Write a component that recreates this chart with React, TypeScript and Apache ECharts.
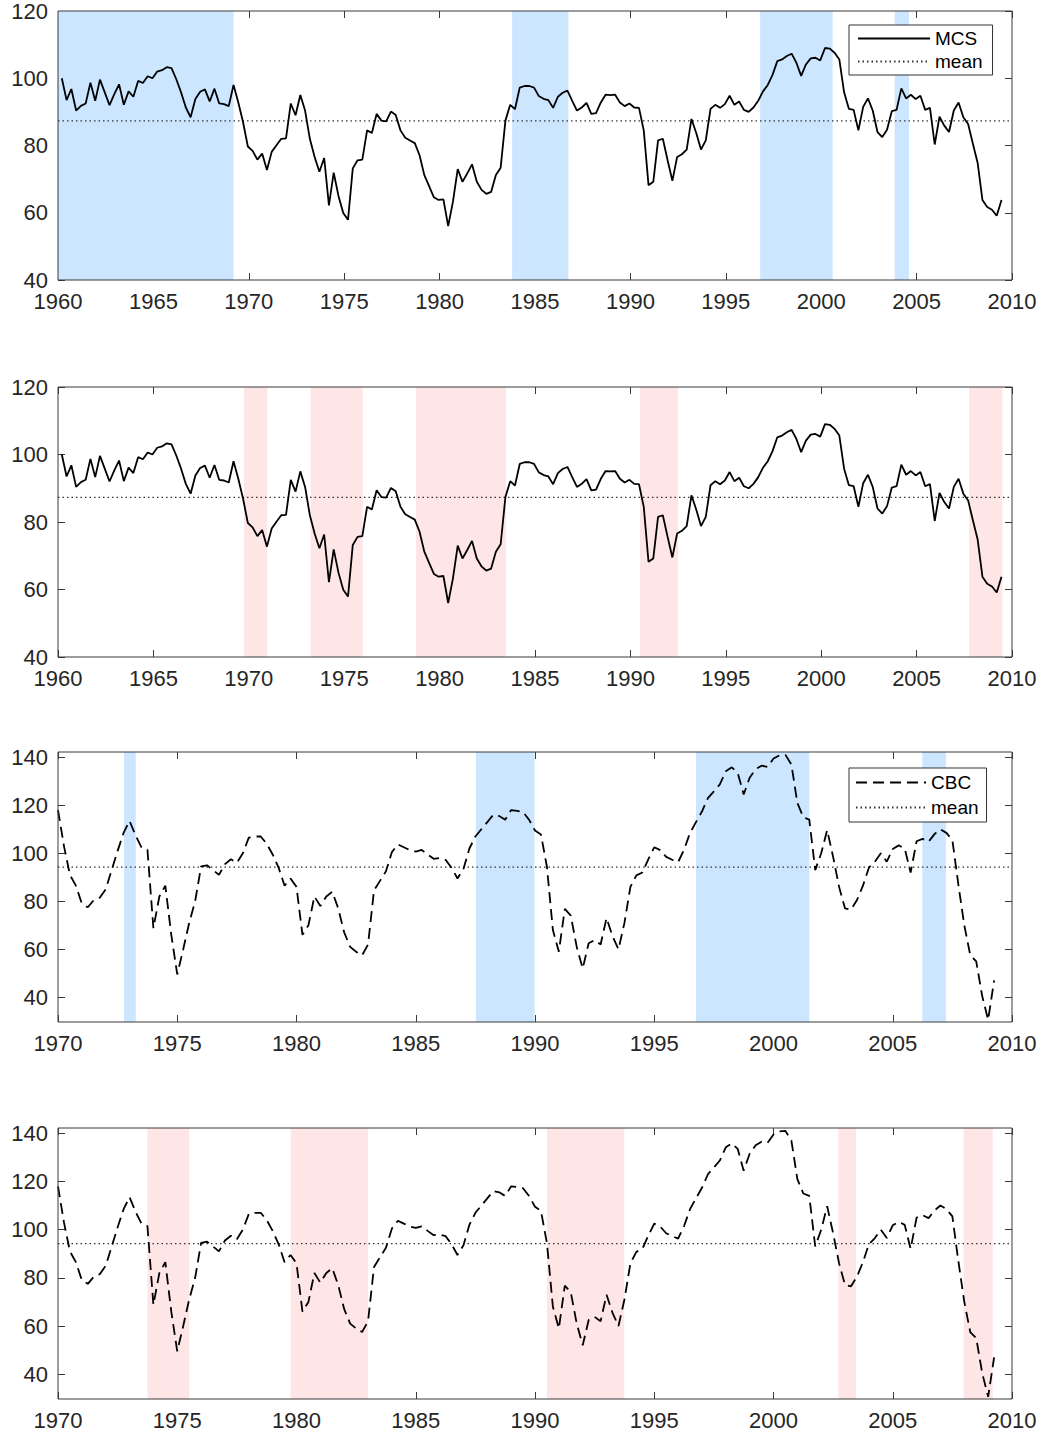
import React, { useEffect, useRef } from "react";
import * as echarts from "echarts";

// ---------- data ----------
const QUARTER = 0.25;
const MCS_START = 1960.2;
const CBC_START = 1970.0;

const mcsValues = [
  100, 93.5, 96.8, 90.4, 91.8, 92.5, 98.7, 93.3, 99.6, 95.8,
  92, 95.3, 98.2, 92.1, 96.1, 94.5, 99.2, 98.6, 100.6, 100,
  102, 102.4, 103.3, 103, 99.7, 95.8, 91.3, 88.4, 93.8, 96,
  96.7, 93.1, 96.9, 92.5, 92.3, 91.7, 98, 92.8, 86.9, 79.7,
  78.4, 75.8, 77.6, 72.7, 78.1, 80.1, 82, 82.1, 92.5, 89,
  95, 90.4, 82, 76.6, 72.2, 76.3, 62.2, 71.9, 65, 59.9,
  57.9, 73.2, 75.6, 75.8, 84.5, 83.7, 89.4,
  87.4, 87.2, 90.1, 89.1, 84.5, 82.3, 81.5, 80.7, 77.1, 71.2,
  67.9, 64.6, 63.8, 64, 56, 63.3, 73, 69.2, 71.7, 74.4,
  69.2, 66.8, 65.6, 66.2, 71.2, 73.4, 87.4, 92.1, 90.8, 97.2,
  97.7, 97.7, 97.2, 94.7, 93.9, 93.5, 91.2, 94.5, 95.7, 96.3,
  93.3, 90.4, 91.3, 92.7, 89.4, 89.6, 92.8, 95.1, 95, 95.1,
  92.8, 91.7, 92.5, 91.3, 91.2, 84.5, 68.2, 69.2, 81.5, 82,
  75.6, 69.5, 76.6, 77.4, 78.8, 87.9, 83.7,
  78.8, 81.5, 90.9, 92.1, 91.2, 92.3, 94.8, 92.1, 93.1, 90.6,
  90, 91.3, 93.3, 96.1, 98, 101, 105.1, 105.6, 106.6, 107.3,
  104.6, 100.7, 104.1, 105.9, 106.1, 105.3, 109, 108.8, 107.6, 105.6,
  95.8, 90.9, 90.6, 84.5, 91.5, 94, 90.4, 84, 82.5, 84.7,
  90.2, 90.6, 97, 94, 95.1, 93.8, 94.8, 90.6, 91.2, 80.3,
  88.6, 85.9, 84, 90.4, 92.8, 88.4, 86.4, 80.5, 74.8, 63.8,
  61.7, 60.9, 59.1, 63.8,
];

const cbcValues = [
  118, 103, 91, 86.5, 79, 77.5, 80.5, 81.5, 85, 93,
  101, 108.5, 113.5, 107.5, 102.5, 101.5, 68.8, 82, 86.5, 66,
  49.5, 60, 71, 80, 94.5, 95, 93, 91, 95.5, 97.5,
  96, 100, 106.5, 107, 107, 104, 99.5, 94, 86.5, 89.5,
  86, 66, 70, 82, 78, 82, 84, 77, 67, 61,
  59, 57.5, 62, 84.5, 88.5, 92.5, 100.5, 103.7, 102.5, 101.3,
  100.7, 101.4, 99.5, 97.7, 98, 97.3, 94, 89.5, 93.5, 102,
  107, 110, 113, 116, 115.5, 114, 118, 117.7, 117.2, 114,
  109.5, 107.8, 94.4, 68, 59, 76.8, 74, 61, 52, 62.5,
  63.8, 62, 73, 65.5, 60, 71, 86, 90.8, 92, 97.5,
  102.5, 101.3, 98.5, 97.3, 96.3, 101.5, 108.5, 113,
  117.4, 123, 125.8, 128.7, 134.2, 135.8, 133.5, 124.5, 131.5, 135,
  136.5, 136, 139.5, 140.8, 141, 137, 121, 115, 114, 93,
  100, 109.7, 98.5, 86, 77, 76.5, 80.5, 86.5, 94, 96.5,
  100, 96.5, 101.8, 103.3, 102, 92, 105, 106, 104.8, 108,
  110, 108.5, 105.5, 87, 70, 57.5, 55, 40.5, 30.6, 47,
];

const mcsMean = 87.3;
const cbcMean = 94.2;

const mcsBlueBands = [[1960, 1969.2], [1983.8, 1986.75], [1996.8, 2000.6], [2003.85, 2004.6]];
const mcsPinkBands = [[1969.75, 1970.97], [1973.24, 1975.97], [1978.76, 1983.48], [1990.5, 1992.5], [2007.75, 2009.5]];
const cbcBlueBands = [[1972.77, 1973.26], [1987.52, 1989.98], [1996.75, 2001.5], [2006.24, 2007.23]];
const cbcPinkBands = [[1973.75, 1975.5], [1979.75, 1983.0], [1990.5, 1993.74], [2002.72, 2003.46], [2007.97, 2009.19]];

const mcsYears = [1960, 2010];
const cbcYears = [1970, 2010];
const mcsYRange = [40, 120];
const cbcYRange = [29.7, 142.2];
const mcsYTicks = [40, 60, 80, 100, 120];
const cbcYTicks = [40, 60, 80, 100, 120, 140];

// ---------- style ----------
const FONT = "'Liberation Sans', Arial, sans-serif";
const TEXT = "#262626";
const AXIS = "#3a3a3a";
const BLUE = "rgb(204,230,255)";
const PINK = "rgb(255,230,230)";

const toPairs = (start: number, values: number[]) =>
  values.map((v, i) => [start + i * QUARTER, v]);

const panels = [
  { top: 10, height: 270, name: "MCS", start: MCS_START, values: mcsValues, mean: mcsMean, bands: mcsBlueBands, band: BLUE, years: mcsYears, yr: mcsYRange, yt: mcsYTicks, dash: "solid" as any },
  { top: 387, height: 270, name: "MCS", start: MCS_START, values: mcsValues, mean: mcsMean, bands: mcsPinkBands, band: PINK, years: mcsYears, yr: mcsYRange, yt: mcsYTicks, dash: "solid" as any },
  { top: 752, height: 270, name: "CBC", start: CBC_START, values: cbcValues, mean: cbcMean, bands: cbcBlueBands, band: BLUE, years: cbcYears, yr: cbcYRange, yt: cbcYTicks, dash: [11, 6] as any },
  { top: 1128, height: 271, name: "CBC", start: CBC_START, values: cbcValues, mean: cbcMean, bands: cbcPinkBands, band: PINK, years: cbcYears, yr: cbcYRange, yt: cbcYTicks, dash: [11, 6] as any },
];

function buildOption() {
  const grid: any[] = [];
  const xAxis: any[] = [];
  const yAxis: any[] = [];
  const series: any[] = [];
  panels.forEach((p, i) => {
    grid.push({
      left: 58, width: 954, top: p.top, height: p.height,
      show: true, z: 10, backgroundColor: "transparent",
      borderColor: AXIS, borderWidth: 1,
    });
    const tick = { inside: true, length: 7, lineStyle: { color: AXIS, width: 1 } };
    const label = { fontSize: 22, fontFamily: FONT, color: TEXT };
    ["bottom", "top"].forEach((pos) => {
      xAxis.push({
        type: "value", gridIndex: i, position: pos,
        min: p.years[0], max: p.years[1], interval: 5,
        axisLine: { show: false }, splitLine: { show: false },
        axisTick: tick,
        axisLabel: pos === "bottom"
          ? { ...label, margin: 11, lineHeight: 20, formatter: (v: number) => String(v) }
          : { show: false },
      });
    });
    ["left", "right"].forEach((pos) => {
      yAxis.push({
        type: "value", gridIndex: i, position: pos,
        min: p.yr[0], max: p.yr[1],
        axisLine: { show: false }, splitLine: { show: false },
        axisTick: { ...tick, customValues: p.yt },
        axisLabel: pos === "left"
          ? { ...label, margin: 10, lineHeight: 16, customValues: p.yt, formatter: (v: number) => String(v) }
          : { show: false },
      });
    });
    series.push({
      type: "line", name: "mean",
      xAxisIndex: 2 * i, yAxisIndex: 2 * i,
      data: [[p.years[0], p.mean], [p.years[1], p.mean]],
      symbol: "none", silent: true, z: 2,
      lineStyle: { color: "#333", width: 1.2, type: [1.5, 3] },
      markArea: {
        silent: true,
        itemStyle: { color: p.band, opacity: 1, borderWidth: 0 },
        data: p.bands.map(([a, b]) => [{ xAxis: a }, { xAxis: b }]),
      },
    });
    series.push({
      type: "line", name: p.name,
      xAxisIndex: 2 * i, yAxisIndex: 2 * i,
      data: toPairs(p.start, p.values),
      symbol: "none", silent: true, z: 3,
      lineStyle: { color: "#000", width: 1.8, type: p.dash },
    });
  });

  const legendBase = {
    orient: "vertical", left: 849, selectedMode: false,
    backgroundColor: "#fff", borderColor: "#333", borderWidth: 1,
    itemWidth: 72, itemHeight: 14,
    itemStyle: { opacity: 0 },
    textStyle: { fontSize: 19, fontFamily: FONT, color: "#000" },
    z: 20,
  };
  const legend = [
    { ...legendBase, top: 25, padding: [4, 10, 4, 8], itemGap: 4, data: ["MCS", "mean"] },
    { ...legendBase, top: 768, padding: [5, 8, 5, 6], itemGap: 6, itemWidth: 70, data: ["CBC", "mean"] },
  ];

  return { animation: false, backgroundColor: "#fff", grid, xAxis, yAxis, series, legend };
}

export default function App() {
  const ref = useRef<HTMLDivElement>(null);
  useEffect(() => {
    if (!ref.current) return;
    const chart = echarts.init(ref.current, undefined, { renderer: "svg" });
    chart.setOption(buildOption() as any);
    return () => chart.dispose();
  }, []);
  return (
    <div
      ref={ref}
      style={{ position: "absolute", left: 0, top: 0, width: 1044, height: 1435, background: "#fff" }}
    />
  );
}
